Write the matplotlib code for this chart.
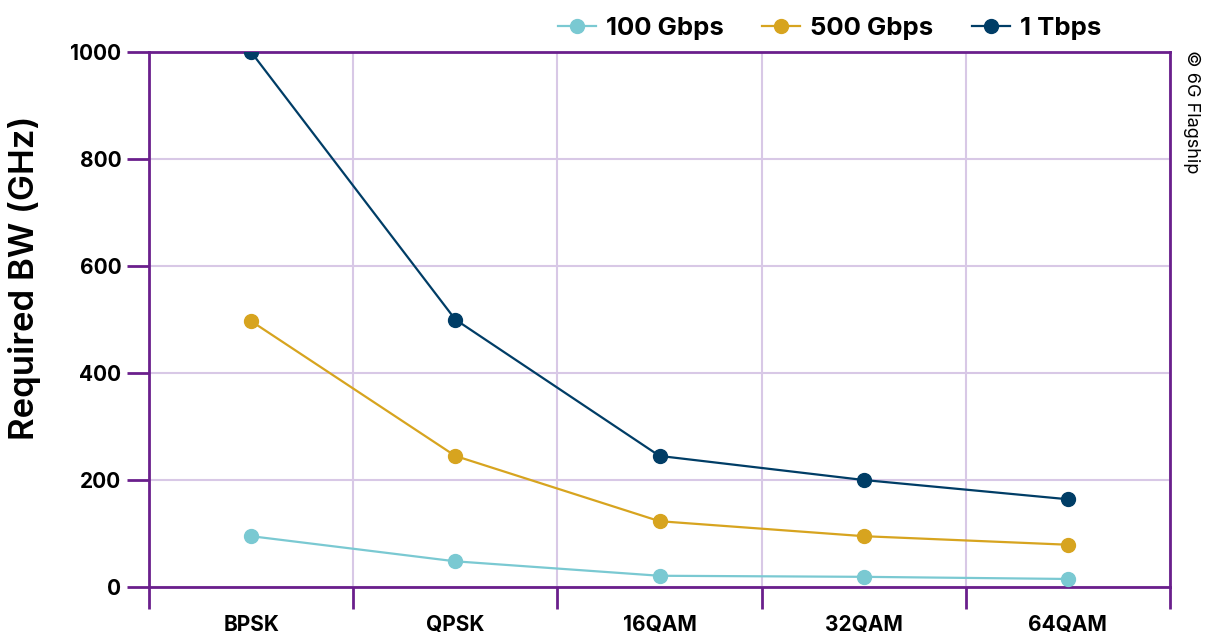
import numpy as np
import matplotlib.pyplot as plt

plt.rcParams['font.family'] = ['Inter', 'DejaVu Sans']

schemes = ['BPSK', 'QPSK', '16QAM', '32QAM', '64QAM']
bw_100g = [95, 48, 21, 19, 15]
bw_500g = [497, 245, 123, 95, 79]
bw_1t = [1000, 500, 245, 200, 164]

purple = '#6a1f8c'
grid_col = '#d8c8e6'

fig = plt.figure(figsize=(12.05, 6.37), dpi=100)
ax = fig.add_axes([149/1205, 50/637, (1170-149)/1205, (587-52)/637])

x = np.arange(len(schemes)) + 0.5
ax.plot(x, bw_100g, color='#7ac9d2', marker='o', markersize=10, lw=1.6, label='100 Gbps', zorder=3)
ax.plot(x, bw_500g, color='#d7a41f', marker='o', markersize=10, lw=1.6, label='500 Gbps', zorder=3)
ax.plot(x, bw_1t, color='#003d66', marker='o', markersize=10, lw=1.6, label='1 Tbps', zorder=3)

ax.set_xlim(0, len(schemes))
ax.set_ylim(0, 1000)
ax.set_xticks(np.arange(len(schemes) + 1))
ax.set_xticklabels([])
ax.set_xticks(x, minor=True)
ax.set_xticklabels(schemes, minor=True, fontsize=15, fontweight='bold')
ax.tick_params(axis='x', which='minor', length=0, pad=20)
ax.tick_params(axis='x', which='major', length=16, width=2, color=purple)
ax.set_yticks(range(0, 1001, 200))
ax.tick_params(axis='y', length=16, width=2, color=purple, labelsize=15, pad=4)
for t in ax.get_yticklabels():
    t.set_fontweight('bold')

ax.grid(True, which='major', color=grid_col, lw=1.5, zorder=0)
for s in ax.spines.values():
    s.set_color(purple)
    s.set_linewidth(2)

ax.set_ylabel('Required BW (GHz)', fontsize=25, fontweight='semibold', va='center', ha='center')
ax.yaxis.set_label_coords((25 - 149) / 1021, (587 - 278) / 535)

fig.legend(loc='upper right', bbox_to_anchor=(1119/1205, 1.002), ncol=3, frameon=False,
           prop={'size': 18.5, 'weight': 'bold'}, handlelength=1.48, handletextpad=0.39,
           columnspacing=1.48, borderaxespad=0.3)

fig.text(1192/1205, 1 - 50/637, '© 6G Flagship', rotation=-90, ha='center', va='top', fontsize=13)

fig.savefig('out.png', dpi=100)
